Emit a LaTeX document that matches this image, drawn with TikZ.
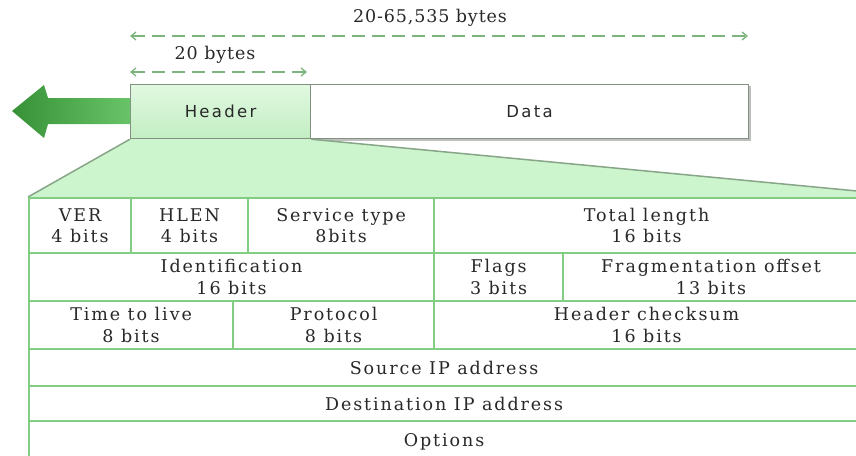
\documentclass[tikz,border=0pt]{standalone}
\usepackage{fontspec}
\setmainfont{DejaVu Serif}[LetterSpace=11]
\newfontfamily\hdrfont{DejaVu Sans}[LetterSpace=14]
\newfontfamily\lblfont{DejaVu Serif}[LetterSpace=5]
\usetikzlibrary{arrows.meta}
\definecolor{tblgreen}{RGB}{130,205,130}
\definecolor{trapfill}{RGB}{205,245,205}
\definecolor{trapline}{RGB}{135,165,135}
\definecolor{hdrtop}{RGB}{225,248,225}
\definecolor{hdrbot}{RGB}{195,238,195}
\definecolor{dimgreen}{RGB}{125,180,125}
\definecolor{arrowdark}{RGB}{55,145,55}
\definecolor{arrowlight}{RGB}{105,195,105}
\definecolor{boxline}{RGB}{130,145,130}
\definecolor{txt}{RGB}{40,40,40}
\tikzset{
  cell/.style 2 args={draw=tblgreen, line width=2.2pt, fill=white, inner sep=0pt,
    anchor=north west, minimum width=#1pt, minimum height=#2pt, align=center,
    text=txt, font=\fontsize{17.5}{21.5}\selectfont},
  pktbox/.style={draw=boxline, line width=1.2pt, inner sep=0pt, anchor=north west,
    minimum height=54pt, text=txt, font=\hdrfont\fontsize{16.5}{18}\selectfont},
  dimline/.style={draw=dimgreen, line width=1.3pt, dash pattern=on 13pt off 7pt,
    {Straight Barb[length=5pt,width=8pt]}-{Straight Barb[length=5pt,width=8pt]}},
  dimlabel/.style={text=txt, font=\lblfont\fontsize{17.5}{18}\selectfont, inner sep=0pt}
}
\begin{document}
\begin{tikzpicture}[x=1pt,y=-1pt]
\useasboundingbox (0,0) rectangle (856,455);

% packet boxes
\fill[gray!50] (312,86) rectangle (751,141);
\node[pktbox, minimum width=180pt, top color=hdrtop, bottom color=hdrbot] (hdr) at (130,84) {Header};
\node[pktbox, minimum width=438pt, fill=white] (data) at (310,84) {Data};

% big green arrow
\shade[left color=arrowdark, right color=arrowlight]
  (12,111) -- (44,85) -- (48,98) -- (hdr.west |- 0,98) -- (hdr.west |- 0,124)
  -- (48,124) -- (44,138) -- cycle;

% dimension arrows
\coordinate (dA1) at (130,36);
\coordinate (dA2) at (748,36);
\coordinate (dB1) at (130,72);
\coordinate (dB2) at (307,72);
\draw[dimline] (dA1) -- (dA2);
\draw[dimline] (dB1) -- (dB2);
\node[dimlabel] (lblA) at (430,18) {20-65,535 bytes};
\node[dimlabel] (lblB) at (215,55) {20 bytes};

% trapezoid
\coordinate (tl) at (28,197);
\coordinate (tr) at (857,197);
\coordinate (trr) at (857,191);
\fill[trapfill] (hdr.south west) -- (hdr.south east) -- (trr) -- (tr) -- (tl) -- cycle;
\draw[trapline, line width=1.5pt] (hdr.south west) -- (tl);
\draw[trapline, line width=1.5pt] (hdr.south east) -- (trr);

% table
\node[cell={102}{55}] (ver) at (28,197) {VER\\4 bits};
\node[cell={117}{55}] (hlen) at (130,197) {HLEN\\4 bits};
\node[cell={186}{55}] (svc) at (247,197) {Service type\\8bits};
\node[cell={425}{55}] (tlen) at (433,197) {Total length\\16 bits};

\node[cell={405}{48}] (ident) at (28,252) {Identification\\16 bits};
\node[cell={129}{48}] (flags) at (433,252) {Flags\\3 bits};
\node[cell={296}{48}] (frag) at (562,252) {Fragmentation offset\\13 bits};

\node[cell={204}{48}] (ttl) at (28,300) {Time to live\\8 bits};
\node[cell={201}{48}] (proto) at (232,300) {Protocol\\8 bits};
\node[cell={425}{48}] (chk) at (433,300) {Header checksum\\16 bits};

\node[cell={830}{37}] (src) at (28,348) {Source IP address};
\node[cell={830}{35}] (dst) at (28,385) {Destination IP address};
\node[cell={830}{42}] (opt) at (28,420) {Options};
\end{tikzpicture}
\end{document}
